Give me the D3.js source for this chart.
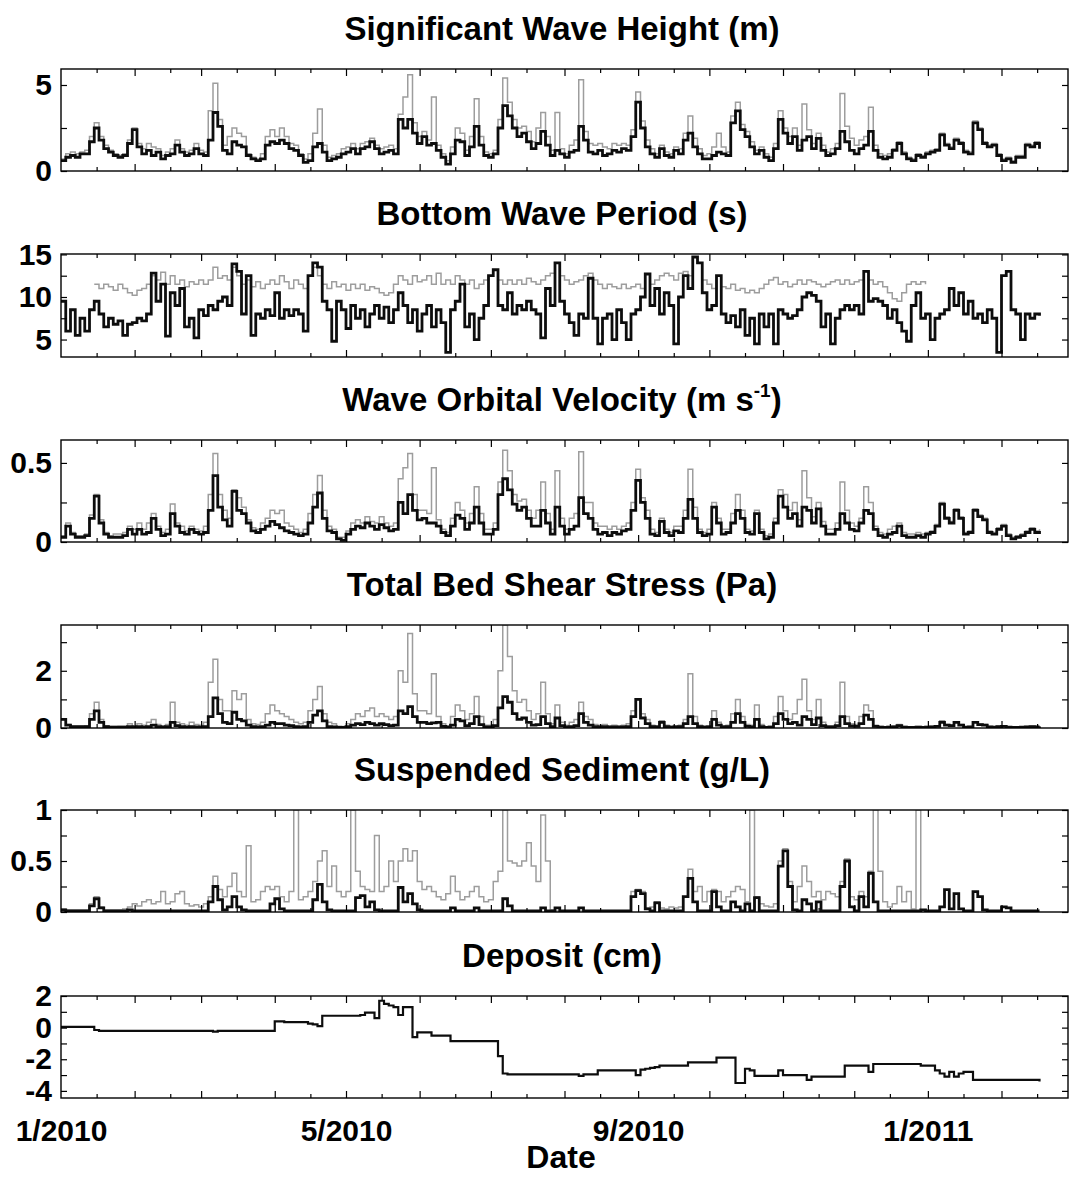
<!DOCTYPE html>
<html>
<head>
<meta charset="utf-8">
<script src="https://cdn.jsdelivr.net/npm/d3@7"></script>
<style>
  html, body { margin: 0; padding: 0; background: #fff; }
  svg { display: block; font-family: "Liberation Sans", Arial, Helvetica, sans-serif; }
</style>
</head>
<body>
<svg id="chart" width="1069" height="1178"></svg>
<script>
// every series: one value each 2 days, starting 1 Jan 2010 (null = no record)
const START = new Date(Date.UTC(2010, 0, 1));
const END = new Date(Date.UTC(2011, 2, 1));
const STEP_DAYS = 2;

const X_LABEL_DATES = ["2010-01-01", "2010-05-01", "2010-09-01", "2011-01-01"];
const X_LABELS = ["1/2010", "5/2010", "9/2010", "1/2011"];

// ---------- Significant wave height (m) ----------
const hsTicks = [0, 2.5, 5];
const hsTickLabels = ["0", "", "5"];
const hsBlack = [
  0.6,0.8,0.9,0.8,1.0,1.0,1.7,2.5,1.8,1.3,
  1.1,0.9,0.8,0.9,1.6,2.4,1.4,1.0,1.2,0.9,
  1.1,0.7,0.9,1.0,1.5,1.1,0.9,1.0,1.3,1.0,
  0.9,1.8,3.4,2.6,1.2,1.0,1.7,1.5,1.4,0.9,
  0.7,0.6,0.7,1.5,1.7,1.6,1.8,1.6,1.3,1.2,
  0.9,0.5,0.6,1.4,1.6,1.1,0.6,0.7,0.8,1.0,
  1.1,1.3,1.0,1.3,1.4,1.7,1.3,1.0,1.1,1.2,
  1.0,3.0,2.5,3.0,2.2,1.6,2.0,1.5,1.6,1.2,
  0.8,0.4,1.0,1.8,1.7,0.9,1.4,2.6,1.5,0.9,
  0.8,1.0,2.5,3.8,3.2,2.5,2.0,2.2,1.7,1.3,
  1.6,2.3,1.5,0.9,1.2,1.0,0.8,1.1,1.2,2.6,
  1.8,1.1,1.0,1.2,0.9,1.0,1.2,1.1,1.3,1.2,
  2.0,4.0,2.5,1.4,1.0,0.8,1.3,0.9,0.8,1.2,
  1.0,1.8,2.2,1.4,1.0,0.7,0.7,0.9,1.1,1.0,
  0.9,2.8,3.5,2.4,2.0,1.4,1.0,1.2,0.8,0.6,
  1.3,3.0,2.2,1.6,2.0,1.2,1.8,2.0,1.3,1.9,
  1.2,0.9,1.0,1.3,2.3,1.7,1.2,1.0,1.3,1.5,
  2.3,1.2,0.8,0.7,0.8,1.2,1.6,1.0,0.7,0.6,
  0.9,0.8,1.0,1.1,1.2,2.1,1.5,1.3,1.8,1.6,
  1.1,1.0,2.8,2.4,1.6,1.4,1.5,0.9,0.6,0.7,
  0.5,0.8,0.8,1.5,1.4,1.6,1.3
];
const hsGray = [
  0.7,1.0,1.1,1.0,1.1,1.2,2.0,2.8,2.0,1.5,
  1.2,1.0,0.9,1.0,1.8,2.5,1.6,1.3,1.6,1.4,
  1.3,0.9,1.1,1.3,1.8,1.3,1.1,1.2,1.6,1.2,
  1.1,3.5,5.1,3.0,1.5,2.0,2.5,2.2,2.0,1.0,
  0.8,0.7,1.0,2.0,2.4,2.0,2.5,2.0,1.6,1.5,
  1.0,0.7,1.0,2.2,3.6,1.5,0.8,0.9,1.0,1.3,
  1.4,1.6,1.3,1.6,1.7,1.9,1.5,1.3,1.4,1.5,
  1.3,3.3,4.3,5.6,2.8,2.0,2.3,1.8,4.3,1.5,
  1.0,0.6,1.4,2.5,2.2,1.2,2.0,4.2,2.0,1.1,
  1.0,1.2,3.0,5.4,4.0,3.0,2.5,2.6,2.3,1.7,
  2.5,3.4,2.0,1.2,3.4,1.3,1.0,1.5,1.8,5.3,
  2.3,1.6,1.5,1.6,1.4,1.3,1.6,1.5,1.6,1.5,
  2.4,4.6,2.9,1.8,1.3,1.0,1.5,1.1,1.0,1.4,
  1.3,2.2,3.2,1.9,1.3,0.9,1.0,1.4,2.2,1.4,
  1.1,3.2,4.0,2.7,2.3,1.7,1.2,1.4,1.0,0.8,
  1.6,3.5,2.5,2.0,2.5,1.5,3.9,2.4,1.6,2.2,
  1.5,1.1,1.3,1.6,4.5,2.6,1.9,1.5,1.8,2.0,
  3.7,1.5,1.0,0.9,1.0,1.3,1.7,1.1,0.8,0.7,
  1.0,0.9,1.1,1.2,1.3,2.2,1.6,1.4,1.9,1.7,
  1.2,1.1,2.9,2.5,1.7,1.5,1.6,1.0,0.7,0.8,
  0.6,0.9,0.9,1.6,1.5,1.7,1.4
];

// ---------- Bottom wave period (s) ----------
const tpTicks = [5, 7.5, 10, 12.5, 15];
const tpTickLabels = ["5", "", "10", "", "15"];
const tpBlack = [
  9.5,6.0,8.5,5.5,7.5,6.0,8.5,9.5,8.0,6.5,
  7.5,6.8,7.2,5.5,6.8,7.0,7.5,7.2,8.0,12.8,
  9.5,11.5,5.4,10.5,9.0,11.0,6.5,7.5,5.2,8.5,
  7.8,9.0,8.5,9.5,10.0,9.0,13.9,13.0,8.0,12.5,
  5.5,8.0,7.5,8.5,7.8,10.5,7.5,8.5,7.8,8.5,
  8.0,6.0,12.5,14.0,13.5,9.5,8.5,4.8,9.5,8.5,
  6.3,9.0,7.5,8.5,6.5,8.0,9.0,7.5,8.8,7.0,
  8.5,10.5,9.0,7.0,8.5,6.0,8.0,9.0,6.5,8.5,
  7.0,3.5,8.5,9.5,11.5,6.5,8.0,5.0,7.5,9.0,
  12.5,13.2,9.0,8.5,10.5,8.0,9.0,8.5,9.5,8.5,
  8.0,5.2,11.0,9.0,14.0,9.5,8.0,7.0,5.5,8.0,
  7.5,12.2,7.5,4.5,7.5,8.0,5.0,8.5,7.0,5.0,
  8.0,8.5,10.0,12.7,9.0,11.0,8.0,10.5,9.0,4.5,
  10.0,12.5,11.0,14.7,14.0,10.5,8.5,9.0,12.5,8.0,
  7.0,7.8,6.5,8.5,5.5,7.5,4.5,8.0,6.5,8.0,
  4.5,8.5,8.0,7.5,7.8,8.5,10.0,10.5,10.2,9.5,
  6.5,8.0,4.5,7.5,8.5,9.0,8.5,9.0,8.0,13.0,
  9.5,9.8,9.5,9.0,7.5,8.5,7.0,6.0,4.8,9.0,
  10.5,7.5,8.0,5.0,7.5,8.0,8.5,11.0,9.0,10.5,
  8.0,9.5,7.5,8.0,7.0,8.5,7.5,3.5,12.5,13.0,
  8.5,8.0,5.0,8.0,7.5,8.0,7.8
];
const tpGray = [
  null,null,null,null,null,null,null,11.5,11.0,11.5,
  11.2,10.8,11.5,11.0,10.5,10.2,10.8,11.0,11.5,12.5,
  12.0,12.9,11.5,12.5,11.5,12.0,11.2,11.8,11.5,12.0,
  11.5,12.0,13.5,12.2,12.5,12.0,13.5,12.5,11.5,12.0,
  11.2,11.8,11.0,11.5,12.0,11.5,12.5,11.8,11.0,12.0,
  11.5,11.0,12.5,13.5,12.5,11.5,11.0,11.8,11.2,11.5,
  10.8,11.5,11.0,11.5,10.8,11.2,11.0,10.5,10.2,10.5,
  11.5,12.5,12.0,11.5,12.5,11.8,12.0,12.5,11.5,12.8,
  11.5,12.0,11.5,12.5,12.0,11.5,12.0,11.0,11.5,12.0,
  12.5,13.2,12.0,11.5,12.0,11.5,12.0,11.5,12.2,11.8,
  11.5,12.0,12.5,12.8,14.0,12.5,12.0,11.5,11.8,12.0,
  12.5,12.8,12.0,11.5,11.0,11.5,11.2,11.0,11.5,11.0,
  11.2,11.5,11.0,12.7,11.5,12.0,12.5,12.8,12.5,12.0,
  12.8,13.0,12.5,14.7,14.0,12.0,11.5,11.0,12.5,11.2,
  11.0,11.5,10.8,11.0,10.5,10.8,10.5,11.0,11.5,12.0,
  12.3,11.5,11.8,11.2,11.5,12.0,11.5,12.0,11.8,11.5,
  11.2,11.5,11.8,12.0,11.5,12.0,11.5,11.8,12.0,13.0,
  12.0,11.5,11.8,11.2,10.5,9.8,9.5,10.5,11.5,11.8,
  11.5,11.8,11.5,null,null,null,null,null,null,null,
  null,null,null,null,null,null,null,null,null,null,
  null,null,null,null,null,null,null
];

// ---------- Wave orbital velocity (m/s) ----------
const ubTicks = [0, 0.25, 0.5];
const ubTickLabels = ["0", "", "0.5"];
const ubBlack = [
  0.03,0.1,0.05,0.03,0.03,0.04,0.15,0.29,0.12,0.05,
  0.03,0.03,0.03,0.04,0.08,0.05,0.08,0.05,0.06,0.15,
  0.08,0.04,0.05,0.18,0.1,0.06,0.05,0.08,0.06,0.05,
  0.06,0.2,0.42,0.22,0.14,0.1,0.32,0.2,0.18,0.12,
  0.07,0.06,0.08,0.1,0.13,0.11,0.09,0.07,0.06,0.05,
  0.04,0.05,0.12,0.22,0.31,0.15,0.07,0.06,0.02,0.01,
  0.05,0.08,0.1,0.09,0.12,0.1,0.08,0.11,0.09,0.07,
  0.08,0.25,0.18,0.3,0.2,0.14,0.15,0.12,0.12,0.1,
  0.06,0.04,0.1,0.17,0.15,0.08,0.12,0.22,0.12,0.05,
  0.05,0.08,0.3,0.4,0.33,0.24,0.2,0.22,0.15,0.1,
  0.1,0.2,0.12,0.05,0.22,0.1,0.05,0.08,0.1,0.28,
  0.18,0.15,0.08,0.05,0.06,0.04,0.06,0.05,0.07,0.08,
  0.2,0.39,0.25,0.15,0.05,0.04,0.13,0.06,0.04,0.07,
  0.06,0.15,0.27,0.15,0.06,0.04,0.05,0.22,0.12,0.05,
  0.06,0.12,0.2,0.15,0.06,0.05,0.18,0.06,0.02,0.03,
  0.12,0.29,0.22,0.15,0.18,0.1,0.22,0.2,0.12,0.21,
  0.1,0.05,0.05,0.08,0.18,0.12,0.08,0.07,0.12,0.2,
  0.18,0.08,0.04,0.03,0.05,0.06,0.1,0.04,0.03,0.03,
  0.04,0.03,0.05,0.06,0.1,0.24,0.15,0.12,0.2,0.15,
  0.05,0.06,0.2,0.16,0.14,0.06,0.05,0.08,0.1,0.04,
  0.02,0.03,0.04,0.06,0.08,0.06,0.07
];
const ubGray = [
  0.04,0.12,0.06,0.04,0.04,0.05,0.17,0.3,0.14,0.06,
  0.04,0.05,0.05,0.06,0.1,0.08,0.12,0.08,0.12,0.18,
  0.1,0.06,0.08,0.24,0.12,0.1,0.07,0.1,0.08,0.07,
  0.1,0.3,0.56,0.3,0.2,0.15,0.33,0.28,0.22,0.14,
  0.09,0.08,0.12,0.15,0.2,0.18,0.2,0.12,0.1,0.08,
  0.06,0.08,0.18,0.3,0.42,0.2,0.1,0.08,0.03,0.03,
  0.07,0.12,0.14,0.12,0.16,0.13,0.12,0.16,0.12,0.1,
  0.12,0.4,0.47,0.56,0.3,0.2,0.2,0.18,0.47,0.14,
  0.08,0.06,0.15,0.25,0.2,0.12,0.18,0.35,0.18,0.08,
  0.08,0.12,0.38,0.58,0.45,0.3,0.26,0.27,0.2,0.15,
  0.2,0.38,0.18,0.08,0.45,0.15,0.08,0.15,0.18,0.57,
  0.25,0.25,0.12,0.1,0.1,0.08,0.1,0.08,0.1,0.12,
  0.25,0.46,0.28,0.2,0.08,0.06,0.15,0.08,0.06,0.1,
  0.1,0.2,0.46,0.22,0.08,0.06,0.08,0.25,0.15,0.08,
  0.08,0.18,0.3,0.2,0.08,0.07,0.2,0.08,0.04,0.05,
  0.15,0.33,0.3,0.2,0.25,0.14,0.45,0.28,0.16,0.25,
  0.13,0.08,0.08,0.12,0.38,0.2,0.12,0.1,0.15,0.35,
  0.25,0.1,0.06,0.05,0.08,0.1,0.12,0.06,0.05,0.05,
  0.06,0.05,0.06,0.07,0.11,0.25,0.16,0.13,0.21,0.16,
  0.06,0.07,0.21,0.17,0.15,0.07,0.06,0.09,0.11,0.05,
  0.03,0.04,0.05,0.07,0.09,0.07,0.08
];

// ---------- Total bed shear stress (Pa) ----------
const tauTicks = [0, 1, 2, 3];
const tauTickLabels = ["0", "", "2", ""];
const tauBlack = [
  0.3,0.1,0.05,0.05,0.05,0.05,0.3,0.6,0.2,0.05,
  0.03,0.03,0.03,0.03,0.05,0.03,0.05,0.03,0.05,0.1,
  0.05,0.03,0.05,0.2,0.08,0.05,0.03,0.05,0.04,0.03,
  0.05,0.4,1.05,0.5,0.2,0.15,0.55,0.3,0.25,0.1,
  0.05,0.04,0.05,0.1,0.2,0.15,0.15,0.1,0.08,0.05,
  0.04,0.05,0.2,0.45,0.6,0.25,0.05,0.04,0.02,0.02,
  0.05,0.1,0.15,0.12,0.2,0.15,0.1,0.15,0.12,0.08,
  0.1,0.6,0.5,0.75,0.4,0.2,0.2,0.15,0.18,0.2,
  0.06,0.03,0.1,0.3,0.25,0.08,0.15,0.4,0.12,0.04,
  0.04,0.08,0.7,1.1,0.9,0.5,0.3,0.35,0.2,0.1,
  0.12,0.4,0.15,0.05,0.35,0.08,0.04,0.05,0.08,0.5,
  0.2,0.1,0.05,0.04,0.05,0.03,0.04,0.03,0.04,0.05,
  0.4,1.0,0.35,0.15,0.05,0.04,0.2,0.05,0.03,0.04,
  0.05,0.15,0.4,0.15,0.05,0.03,0.04,0.3,0.1,0.04,
  0.05,0.2,0.5,0.2,0.06,0.04,0.3,0.05,0.02,0.03,
  0.15,0.5,0.3,0.15,0.2,0.1,0.4,0.3,0.12,0.35,
  0.08,0.04,0.04,0.08,0.4,0.15,0.07,0.06,0.15,0.45,
  0.3,0.06,0.03,0.02,0.03,0.04,0.08,0.03,0.02,0.02,
  0.03,0.02,0.03,0.04,0.06,0.2,0.1,0.08,0.2,0.1,
  0.03,0.04,0.2,0.12,0.1,0.04,0.03,0.05,0.06,0.03,
  0.02,0.02,0.03,0.04,0.05,0.04,0.05
];
const tauGray = [
  0.3,0.12,0.06,0.06,0.06,0.08,0.5,0.9,0.3,0.08,
  0.05,0.05,0.06,0.06,0.15,0.08,0.15,0.1,0.2,0.3,
  0.12,0.08,0.12,0.9,0.2,0.15,0.1,0.2,0.12,0.1,
  0.2,1.6,2.4,1.0,0.6,0.6,1.3,1.0,1.2,0.3,
  0.15,0.12,0.2,0.5,0.8,0.6,0.5,0.4,0.3,0.2,
  0.15,0.2,0.6,1.0,1.45,0.5,0.2,0.15,0.06,0.05,
  0.15,0.3,0.5,0.4,0.6,0.7,0.4,0.5,0.4,0.3,
  0.4,2.0,1.6,3.3,1.2,0.6,0.6,0.5,1.9,0.4,
  0.15,0.08,0.4,0.8,0.6,0.3,0.5,1.1,0.4,0.1,
  0.1,0.3,2.0,3.6,2.5,1.3,0.9,1.0,0.6,0.3,
  0.5,1.6,0.5,0.15,0.8,0.2,0.1,0.2,0.3,0.9,
  0.4,0.3,0.12,0.1,0.12,0.08,0.1,0.08,0.1,0.15,
  0.6,1.0,0.5,0.3,0.1,0.08,0.25,0.1,0.06,0.08,
  0.1,0.3,1.9,0.4,0.1,0.06,0.08,0.6,0.2,0.08,
  0.1,0.5,1.0,0.4,0.12,0.1,0.8,0.12,0.04,0.06,
  0.4,1.1,0.6,0.3,0.5,1.0,1.7,0.6,0.3,1.0,
  0.2,0.08,0.08,0.2,1.6,0.4,0.15,0.12,0.4,0.8,
  0.6,0.1,0.05,0.04,0.05,0.07,0.12,0.05,0.03,0.03,
  0.05,0.03,0.05,0.06,0.08,0.25,0.12,0.1,0.22,0.12,
  0.04,0.05,0.22,0.14,0.12,0.05,0.04,0.06,0.07,0.04,
  0.03,0.03,0.04,0.05,0.06,0.05,0.06
];

// ---------- Suspended sediment (g/L) ----------
const sscTicks = [0, 0.25, 0.5, 0.75, 1];
const sscTickLabels = ["0", "", "0.5", "", "1"];
const sscBlack = [
  0.02,0.01,0.01,0.01,0.01,0.01,0.06,0.13,0.04,0.01,
  0.01,0.01,0.01,0.01,0.02,0.01,0.01,0.01,0.01,0.01,
  0.01,0.01,0.01,0.01,0.01,0.01,0.01,0.01,0.01,0.01,
  0.01,0.1,0.25,0.12,0.02,0.05,0.15,0.05,0.02,0.01,
  0.01,0.01,0.01,0.01,0.08,0.13,0.03,0.01,0.01,0.01,
  0.01,0.01,0.01,0.12,0.27,0.1,0.02,0.01,0.01,0.01,
  0.01,0.01,0.14,0.16,0.05,0.1,0.02,0.01,0.01,0.01,
  0.01,0.24,0.1,0.18,0.08,0.02,0.01,0.01,0.01,0.01,
  0.01,0.01,0.04,0.01,0.01,0.01,0.01,0.04,0.01,0.01,
  0.01,0.01,0.01,0.13,0.06,0.01,0.01,0.01,0.01,0.01,
  0.01,0.04,0.01,0.01,0.04,0.01,0.01,0.01,0.01,0.04,
  0.01,0.01,0.01,0.01,0.01,0.01,0.01,0.01,0.01,0.01,
  0.15,0.21,0.18,0.03,0.01,0.09,0.01,0.01,0.01,0.01,
  0.01,0.15,0.33,0.1,0.01,0.01,0.01,0.2,0.05,0.01,
  0.01,0.1,0.05,0.01,0.08,0.01,0.14,0.01,0.01,0.01,
  0.01,0.45,0.6,0.25,0.02,0.01,0.12,0.08,0.01,0.1,
  0.01,0.01,0.01,0.01,0.25,0.5,0.05,0.01,0.15,0.05,
  0.38,0.1,0.01,0.01,0.01,0.01,0.01,0.01,0.01,0.01,
  0.01,0.02,0.01,0.01,0.01,0.05,0.22,0.03,0.18,0.03,
  0.01,0.01,0.2,0.15,0.02,0.01,0.01,0.01,0.05,0.04,
  0.01,0.01,0.01,0.01,0.01,0.01,0.01
];
const sscGray = [
  0.03,0.02,0.02,0.02,0.02,0.02,0.08,0.15,0.05,0.02,
  0.02,0.02,0.02,0.03,0.05,0.08,0.06,0.1,0.12,0.08,
  0.1,0.2,0.08,0.1,0.18,0.2,0.08,0.06,0.07,0.05,
  0.08,0.15,0.35,0.22,0.15,0.25,0.38,0.2,0.15,0.65,
  0.1,0.12,0.2,0.25,0.22,0.25,0.15,0.1,0.2,1.0,
  0.12,0.15,0.2,0.3,0.5,0.6,0.25,0.45,0.2,0.15,
  0.2,1.0,0.4,0.25,0.22,0.2,0.75,0.2,0.25,0.5,
  0.3,0.5,0.62,0.5,0.6,0.3,0.22,0.25,0.2,0.15,
  0.12,0.18,0.35,0.2,0.12,0.15,0.2,0.25,0.15,0.1,
  0.12,0.3,0.4,1.0,0.5,0.48,0.45,0.5,0.68,0.45,
  0.3,0.95,0.5,0.02,0.01,0.01,0.01,0.01,0.01,0.01,
  0.01,0.01,0.01,0.01,0.01,0.01,0.01,0.01,0.01,0.01,
  0.2,0.22,0.2,0.04,0.05,0.1,0.04,0.03,0.05,0.04,
  0.05,0.15,0.42,0.2,0.25,0.1,0.2,0.22,0.2,0.1,
  0.15,0.2,0.25,0.22,0.1,1.0,0.15,0.08,0.06,0.05,
  0.08,0.5,0.62,0.3,0.1,0.25,0.45,0.3,0.15,0.2,
  0.12,0.2,0.18,0.15,0.3,0.52,0.15,0.12,0.2,0.15,
  0.4,1.0,0.4,0.1,0.05,0.08,0.25,0.1,0.2,0.03,
  1.0,0.03,null,null,null,null,null,null,null,null,
  null,null,null,null,null,null,null,null,null,null,
  null,null,null,null,null,null,null
];

// ---------- Deposit (cm) ----------
const depTicks = [-4, -3, -2, -1, 0, 1, 2];
const depTickLabels = ["-4", "", "-2", "", "0", "", "2"];
const depBlack = [
  0.05,0.05,0.05,0.05,0.05,0.05,0.05,-0.15,-0.2,-0.2,
  -0.2,-0.2,-0.2,-0.2,-0.2,-0.2,-0.2,-0.2,-0.2,-0.2,
  -0.2,-0.2,-0.2,-0.2,-0.2,-0.2,-0.2,-0.2,-0.2,-0.2,
  -0.2,-0.2,-0.25,-0.2,-0.2,-0.2,-0.2,-0.2,-0.2,-0.2,
  -0.2,-0.2,-0.2,-0.2,-0.2,0.4,0.4,0.35,0.35,0.35,
  0.35,0.35,0.25,0.2,0.1,0.75,0.75,0.75,0.75,0.75,
  0.75,0.75,0.75,0.8,0.95,0.95,0.6,1.7,1.5,1.4,
  1.3,0.8,1.3,1.3,-0.6,-0.3,-0.3,-0.3,-0.5,-0.5,
  -0.5,-0.5,-0.85,-0.85,-0.85,-0.85,-0.85,-0.85,-0.85,-0.85,
  -0.85,-0.85,-1.8,-2.9,-2.95,-2.95,-2.95,-2.95,-2.95,-2.95,
  -2.95,-2.95,-2.95,-2.95,-2.95,-2.95,-2.95,-2.95,-2.95,-3.05,
  -2.95,-2.95,-2.95,-2.7,-2.7,-2.7,-2.7,-2.7,-2.7,-2.7,
  -2.7,-3.0,-2.65,-2.6,-2.55,-2.5,-2.4,-2.4,-2.4,-2.4,
  -2.4,-2.4,-2.2,-2.2,-2.2,-2.2,-2.2,-2.2,-1.9,-1.9,
  -1.9,-1.9,-3.5,-3.5,-2.6,-2.7,-3.05,-3.05,-3.05,-3.05,
  -3.05,-2.7,-3.0,-3.0,-3.0,-3.0,-3.0,-3.3,-3.1,-3.1,
  -3.1,-3.1,-3.1,-3.1,-3.1,-2.4,-2.4,-2.4,-2.4,-2.4,
  -2.8,-2.3,-2.3,-2.3,-2.3,-2.3,-2.3,-2.3,-2.3,-2.3,
  -2.3,-2.4,-2.4,-2.4,-2.7,-2.9,-3.1,-2.8,-3.1,-2.9,
  -2.8,-2.8,-3.3,-3.3,-3.3,-3.3,-3.3,-3.3,-3.3,-3.3,
  -3.3,-3.3,-3.3,-3.3,-3.3,-3.3,-3.4
];

// ---------- layout ----------
const W = 1069, H = 1178;
const L = 61, R = 1068;
const FONT = '"Liberation Sans", Arial, Helvetica, sans-serif';

const panels = [
  { title: "Significant Wave Height (m)", top: 69, bottom: 171, domain: [0, 5.93], ticks: hsTicks, labels: hsTickLabels, gray: hsGray, black: hsBlack },
  { title: "Bottom Wave Period (s)", top: 254, bottom: 357, domain: [2.95, 15.05], ticks: tpTicks, labels: tpTickLabels, gray: tpGray, black: tpBlack },
  { title: "Wave Orbital Velocity (m s", sup: "-1", tail: ")", top: 440, bottom: 542, domain: [0, 0.645], ticks: ubTicks, labels: ubTickLabels, gray: ubGray, black: ubBlack },
  { title: "Total Bed Shear Stress (Pa)", top: 625, bottom: 728, domain: [0, 3.6], ticks: tauTicks, labels: tauTickLabels, gray: tauGray, black: tauBlack },
  { title: "Suspended Sediment (g/L)", top: 810, bottom: 912, domain: [0, 1.0], ticks: sscTicks, labels: sscTickLabels, gray: sscGray, black: sscBlack },
  { title: "Deposit (cm)", top: 996, bottom: 1098, domain: [-4.45, 2], ticks: depTicks, labels: depTickLabels, gray: null, black: depBlack, thin: true },
];

const svg = d3.select("#chart").attr("width", W).attr("height", H);
svg.append("rect").attr("width", W).attr("height", H).attr("fill", "#fff");

const x = d3.scaleUtc().domain([START, END]).range([L, R]);
const dateAt = i => d3.utcDay.offset(START, i * STEP_DAYS);

const monthStarts = d3.utcMonth.range(d3.utcMonth.offset(START, 1), END);
const midMonths = d3.utcMonth.range(START, END).map(m => d3.utcDay.offset(m, 15));

function styleAxis(g) {
  g.select(".domain").remove();
  g.selectAll("line").attr("stroke", "#000").attr("stroke-width", 1.2);
  g.selectAll("text").attr("font-family", FONT).attr("font-weight", "bold").attr("font-size", 30).attr("fill", "#000");
}

panels.forEach((p, k) => {
  const y = d3.scaleLinear().domain(p.domain).range([p.bottom, p.top]);
  const g = svg.append("g");

  const t = g.append("text").attr("x", 562).attr("y", p.top - 29).attr("text-anchor", "middle")
    .attr("font-family", FONT).attr("font-weight", "bold").attr("font-size", 33).text(p.title);
  if (p.sup) {
    t.append("tspan").attr("font-size", 19).attr("dy", -14).text(p.sup);
    t.append("tspan").attr("dy", 14).text(p.tail);
  }

  const clipId = "clip" + k;
  g.append("clipPath").attr("id", clipId).append("rect")
    .attr("x", L).attr("y", p.top).attr("width", R - L).attr("height", p.bottom - p.top);
  const plot = g.append("g").attr("clip-path", `url(#${clipId})`);

  // recorded values are held between samples, as in the logger output
  const line = d3.line().defined(v => v != null)
    .x((v, i) => x(dateAt(i))).y(v => y(v))
    .curve(d3.curveStepAfter);

  if (p.gray) {
    plot.append("path").attr("d", line(p.gray)).attr("fill", "none")
      .attr("stroke", "#9d9d9d").attr("stroke-width", 1.5);
  }
  plot.append("path").attr("d", line(p.black)).attr("fill", "none")
    .attr("stroke", "#0d0d0d").attr("stroke-width", p.thin ? 2.2 : 2.8);

  // y axes, ticks pointing inward
  g.append("g").attr("transform", `translate(${L},0)`)
    .call(d3.axisLeft(y).tickValues(p.ticks).tickSizeInner(-6).tickSizeOuter(0).tickPadding(9)
      .tickFormat((d, i) => p.labels[i]))
    .call(styleAxis);
  g.append("g").attr("transform", `translate(${R},0)`)
    .call(d3.axisRight(y).tickValues(p.ticks).tickSizeInner(-6).tickSizeOuter(0).tickFormat(""))
    .call(styleAxis);

  // x ticks top and bottom: long at month start, short at mid-month
  [[monthStarts, 7], [midMonths, 4]].forEach(([vals, len]) => {
    g.append("g").attr("transform", `translate(0,${p.bottom})`)
      .call(d3.axisBottom(x).tickValues(vals).tickSizeInner(-len).tickSizeOuter(0).tickFormat(""))
      .call(styleAxis);
    g.append("g").attr("transform", `translate(0,${p.top})`)
      .call(d3.axisTop(x).tickValues(vals).tickSizeInner(-len).tickSizeOuter(0).tickFormat(""))
      .call(styleAxis);
  });

  g.append("rect").attr("x", L).attr("y", p.top).attr("width", R - L).attr("height", p.bottom - p.top)
    .attr("fill", "none").attr("stroke", "#000").attr("stroke-width", 1.4);
});

// date labels under the last panel
const last = panels[panels.length - 1];
const labelDates = X_LABEL_DATES.map(s => new Date(s + "T00:00:00Z"));
svg.append("g").attr("transform", `translate(0,${last.bottom})`)
  .call(d3.axisBottom(x).tickValues(labelDates).tickSize(0).tickPadding(22)
    .tickFormat((d, i) => X_LABELS[i]))
  .call(styleAxis);

svg.append("text").attr("x", 561).attr("y", 1168).attr("text-anchor", "middle")
  .attr("font-family", FONT).attr("font-weight", "bold").attr("font-size", 32).text("Date");
</script>
</body>
</html>
